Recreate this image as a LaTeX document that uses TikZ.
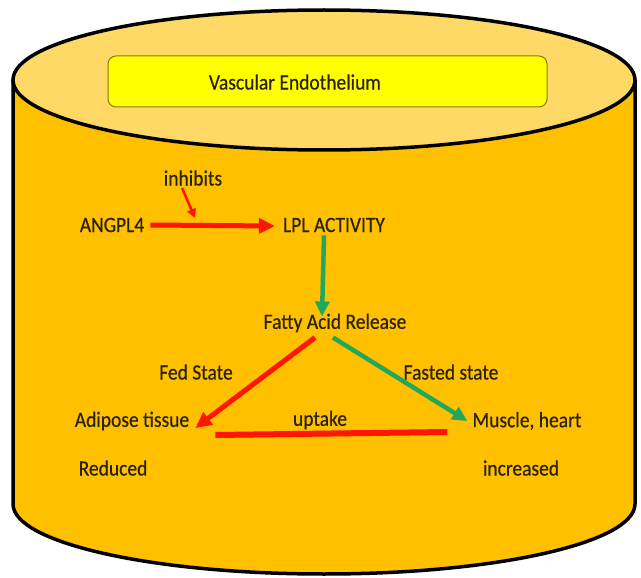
\documentclass[tikz,border=0pt]{standalone}
\usepackage{fontspec}
\setmainfont{Carlito}[FakeBold=0.5]
\usetikzlibrary{arrows.meta,calc}
\definecolor{bodyc}{HTML}{FFC000}
\definecolor{topc}{HTML}{FFD966}
\definecolor{boxy}{HTML}{FFFF00}
\definecolor{boxb}{HTML}{8C7A00}
\definecolor{txt}{HTML}{2B2300}
\definecolor{arred}{HTML}{FF1500}
\definecolor{argreen}{HTML}{22A85C}
\newcommand\tx[1]{\scalebox{1}[1.12]{#1}}
\begin{document}
\begin{tikzpicture}[x=1pt,y=-1pt,
  lbl/.style={font=\fontsize{19.5}{22}\selectfont, text=txt, inner sep=2pt},
  redarrow/.style={draw=arred, line width=5pt, -{Triangle[length=16pt,width=15pt]}},
  greenarrow/.style={draw=argreen, line width=4.5pt, -{Triangle[length=15pt,width=14pt]}},
  thinred/.style={draw=arred, line width=2.5pt, -{Triangle[length=9pt,width=9pt]}},
  redline/.style={draw=arred, line width=6pt},
  outline/.style={draw=black, line width=3.5pt}]
\useasboundingbox (0,0) rectangle (641,578);
% cylinder body
\path[fill=bodyc, outline, line join=round]
  (13,80) -- (13,504)
  .. controls (13,542.7) and (152.2,574) .. (324,574)
  .. controls (495.8,574) and (635,542.7) .. (635,504)
  -- (635,80) -- cycle;
% top ellipse
\path[fill=topc, outline] (324,80) ellipse [x radius=311, y radius=70];
% inner box
\node[draw=boxb, fill=boxy, rounded corners=8pt, line width=1pt,
      minimum width=439pt, minimum height=51pt, inner sep=0pt] (box) at (327.5,81.5) {};
\node[lbl] (ve) at (295,82) {\tx{Vascular Endothelium}};
% labels
\node[lbl] (inh) at (193,178) {\tx{inhibits}};
\node[lbl] (angpl) at (112,225) {\tx{ANGPL4}};
\node[lbl] (lpl) at (334,225) {\tx{LPL ACTIVITY}};
\node[lbl] (fatty) at (335,323) {\tx{Fatty Acid Release}};
\node[lbl] (fed) at (196,372) {\tx{Fed State}};
\node[lbl] (fasted) at (451,372) {\tx{Fasted state}};
\node[lbl] (adipose) at (132,421) {\tx{Adipose tissue}};
\node[lbl] (uptake) at (320,420) {\tx{uptake}};
\node[lbl] (muscle) at (527,421) {\tx{Muscle, heart}};
\node[lbl] (reduced) at (113,468) {\tx{Reduced}};
\node[lbl] (increased) at (521,468) {\tx{increased}};
% connectors
\draw[redarrow] ($(angpl.east)+(4,0)$) -- ($(lpl.west)+(-6,1)$);
\coordinate (inhtip) at (195,218);
\draw[thinred] ($(inh.south)+(-11,0)$) -- (inhtip);
\draw[greenarrow] ($(lpl.south)+(-10,1)$) -- ($(fatty.north)+(-13,5)$);
\draw[redarrow] ($(fatty.south)+(-20,3)$) -- ($(adipose.east)+(4,7)$);
\draw[greenarrow] ($(fatty.south)+(-2,3)$) -- ($(muscle.west)+(-3,0)$);
\draw[redline] ($(adipose.east)+(24,14)$) -- ($(muscle.west)+(-23,11)$);
\end{tikzpicture}
\end{document}
